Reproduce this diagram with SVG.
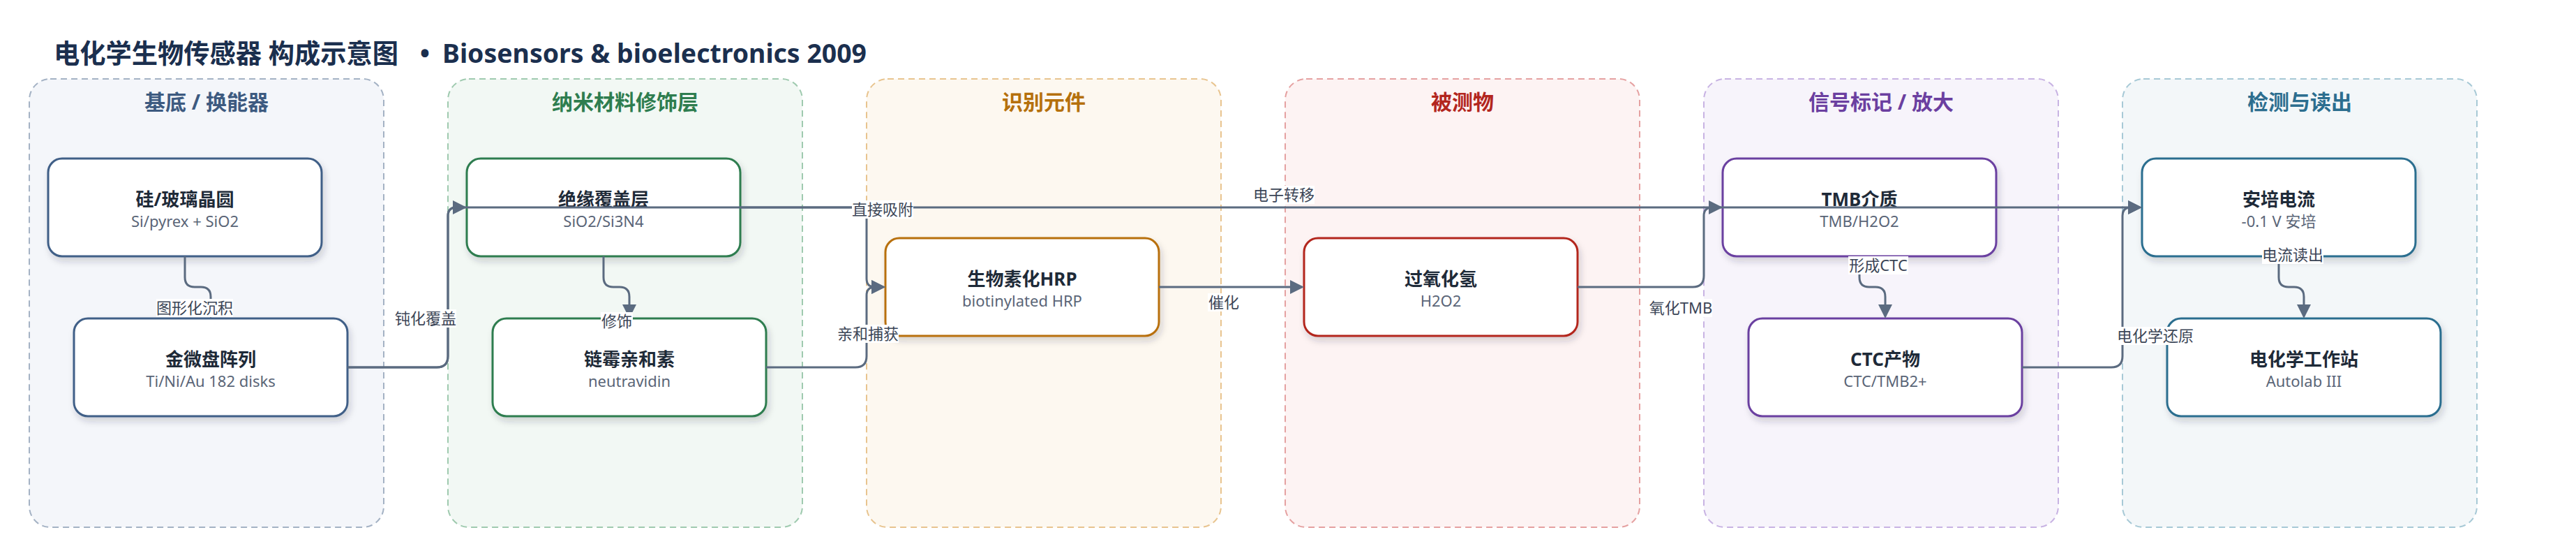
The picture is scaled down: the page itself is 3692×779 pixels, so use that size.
<svg xmlns="http://www.w3.org/2000/svg" width="3692" height="779" viewBox="0 0 3692 779">
<style>
text{font-family:'Noto Sans','Noto Sans CJK SC',sans-serif}
.ttl{font-size:38px;font-weight:700;fill:#1b2f4e}
.ct{font-size:30px;font-weight:700;text-anchor:middle}
.cl{stroke-width:2;stroke-dasharray:9 6}
.nd{fill:#fff;stroke-width:3}
.nt{font-size:26px;font-weight:700;fill:#1e2a38;text-anchor:middle}
.ns{font-size:22px;fill:#5a6577;text-anchor:middle}
.e{fill:none;stroke:#5b6b80;stroke-width:3}
.lb{fill:#fff}
.lt{font-size:22px;fill:#3c4657;text-anchor:middle}
</style>
<defs>
<marker id="ah" markerUnits="userSpaceOnUse" markerWidth="20" markerHeight="20" viewBox="0 0 20 20" refX="17" refY="10" orient="auto"><path d="M0,0 L20,10 L0,20 Z" fill="#5b6b80"/></marker>
<filter id="sh" x="-10%" y="-20%" width="125%" height="150%"><feDropShadow dx="3" dy="6" stdDeviation="5" flood-color="#1e293b" flood-opacity="0.18"/></filter>
</defs>
<rect width="3692" height="779" fill="#fff"/>
<g id="title">
<text class="ttl" x="77" y="90" textLength="494" lengthAdjust="spacingAndGlyphs">电化学生物传感器 构成示意图</text>
<text class="ttl" x="609" y="90" text-anchor="middle">•</text>
<text class="ttl" x="634" y="90" textLength="608" lengthAdjust="spacingAndGlyphs">Biosensors &amp; bioelectronics 2009</text>
</g>

<g id="clusters">
<g id="c1"><rect class="cl" x="42" y="113" width="508" height="642" rx="30" fill="#f4f6fa" stroke="#a4b2c4"/><text class="ct" x="296" y="157" fill="#3d5a80">基底 / 换能器</text></g>
<g id="c2"><rect class="cl" x="642" y="113" width="508" height="642" rx="30" fill="#f2f8f4" stroke="#9fcaaf"/><text class="ct" x="896" y="157" fill="#2e7d4f">纳米材料修饰层</text></g>
<g id="c3"><rect class="cl" x="1242" y="113" width="508" height="642" rx="30" fill="#fdf8f0" stroke="#e8c48f"/><text class="ct" x="1496" y="157" fill="#b5700c">识别元件</text></g>
<g id="c4"><rect class="cl" x="1842" y="113" width="508" height="642" rx="30" fill="#fdf3f3" stroke="#e5a1a1"/><text class="ct" x="2096" y="157" fill="#b3261e">被测物</text></g>
<g id="c5"><rect class="cl" x="2442" y="113" width="508" height="642" rx="30" fill="#f7f4fb" stroke="#c8b3e3"/><text class="ct" x="2696" y="157" fill="#6b3fa0">信号标记 / 放大</text></g>
<g id="c6"><rect class="cl" x="3042" y="113" width="508" height="642" rx="30" fill="#f3f7f9" stroke="#a7c9d6"/><text class="ct" x="3296" y="157" fill="#2c6e8f">检测与读出</text></g>
</g>

<g id="nodes">
<g id="wafer"><rect class="nd" filter="url(#sh)" x="69" y="227" width="392" height="140" rx="20" stroke="#3f5f87"/><text class="nt" x="265" y="295">硅/玻璃晶圆</text><text class="ns" x="265" y="325">Si/pyrex + SiO2</text></g>
<g id="gold"><rect class="nd" filter="url(#sh)" x="106" y="456" width="392" height="140" rx="20" stroke="#3f5f87"/><text class="nt" x="302" y="524">金微盘阵列</text><text class="ns" x="302" y="554">Ti/Ni/Au 182 disks</text></g>
<g id="insul"><rect class="nd" filter="url(#sh)" x="669" y="227" width="392" height="140" rx="20" stroke="#2e7d4f"/><text class="nt" x="865" y="295">绝缘覆盖层</text><text class="ns" x="865" y="325">SiO2/Si3N4</text></g>
<g id="neutra"><rect class="nd" filter="url(#sh)" x="706" y="456" width="392" height="140" rx="20" stroke="#2e7d4f"/><text class="nt" x="902" y="524">链霉亲和素</text><text class="ns" x="902" y="554">neutravidin</text></g>
<g id="hrp"><rect class="nd" filter="url(#sh)" x="1269" y="341" width="392" height="140" rx="20" stroke="#b8700c"/><text class="nt" x="1465" y="409">生物素化HRP</text><text class="ns" x="1465" y="439">biotinylated HRP</text></g>
<g id="h2o2"><rect class="nd" filter="url(#sh)" x="1869" y="341" width="392" height="140" rx="20" stroke="#b3261e"/><text class="nt" x="2065" y="409">过氧化氢</text><text class="ns" x="2065" y="439">H2O2</text></g>
<g id="tmb"><rect class="nd" filter="url(#sh)" x="2469" y="227" width="392" height="140" rx="20" stroke="#6b3fa0"/><text class="nt" x="2665" y="295">TMB介质</text><text class="ns" x="2665" y="325">TMB/H2O2</text></g>
<g id="ctc"><rect class="nd" filter="url(#sh)" x="2506" y="456" width="392" height="140" rx="20" stroke="#6b3fa0"/><text class="nt" x="2702" y="524">CTC产物</text><text class="ns" x="2702" y="554">CTC/TMB2+</text></g>
<g id="amp"><rect class="nd" filter="url(#sh)" x="3070" y="227" width="392" height="140" rx="20" stroke="#2c6e8f"/><text class="nt" x="3266" y="295">安培电流</text><text class="ns" x="3266" y="325">-0.1 V 安培</text></g>
<g id="station"><rect class="nd" filter="url(#sh)" x="3106" y="456" width="392" height="140" rx="20" stroke="#2c6e8f"/><text class="nt" x="3302" y="524">电化学工作站</text><text class="ns" x="3302" y="554">Autolab III</text></g>
</g>

<g id="connectors">
<path class="e" marker-end="url(#ah)" d="M265,367 V397 Q265,411 279,411 H288 Q302,411 302,425 V453"/>
<path class="e" marker-end="url(#ah)" d="M498,526 H626 Q642,526 642,510 V309 Q642,297 654,297 H666"/>
<path class="e" marker-end="url(#ah)" d="M498,526 H626 Q642,526 642,510 V309 Q642,297 654,297 H3067"/>
<path class="e" marker-end="url(#ah)" d="M865,367 V397 Q865,411 879,411 H888 Q902,411 902,425 V453"/>
<path class="e" marker-end="url(#ah)" d="M1061,297 H1226 Q1242,297 1242,313 V399 Q1242,411 1254,411 H1266"/>
<path class="e" marker-end="url(#ah)" d="M1098,526 H1226 Q1242,526 1242,510 V423 Q1242,411 1254,411 H1266"/>
<path class="e" marker-end="url(#ah)" d="M1661,411 H1866"/>
<path class="e" marker-end="url(#ah)" d="M2261,411 H2426 Q2442,411 2442,395 V309 Q2442,297 2454,297 H2466"/>
<path class="e" marker-end="url(#ah)" d="M2665,367 V397 Q2665,411 2679,411 H2688 Q2702,411 2702,425 V453"/>
<path class="e" marker-end="url(#ah)" d="M2898,526 H3026 Q3042,526 3042,510 V309 Q3042,297 3054,297 H3067"/>
<path class="e" marker-end="url(#ah)" d="M3266,367 V397 Q3266,411 3280,411 H3288 Q3302,411 3302,425 V453"/>
</g>

<g id="labels">
<rect class="lb" x="224" y="428" width="110" height="26"/><text class="lt" x="279" y="449">图形化沉积</text>
<rect class="lb" x="566" y="443" width="88" height="26"/><text class="lt" x="610" y="464">钝化覆盖</text>
<rect class="lb" x="861" y="447" width="46" height="26"/><text class="lt" x="884" y="468">修饰</text>
<rect class="lb" x="1221" y="287" width="88" height="26"/><text class="lt" x="1265" y="308">直接吸附</text>
<rect class="lb" x="1200" y="465" width="88" height="26"/><text class="lt" x="1244" y="486">亲和捕获</text>
<rect class="lb" x="1731" y="420" width="46" height="26"/><text class="lt" x="1754" y="441">催化</text>
<rect class="lb" x="1796" y="266" width="88" height="26"/><text class="lt" x="1840" y="287">电子转移</text>
<rect class="lb" x="2364" y="428" width="90" height="26"/><text class="lt" x="2409" y="449">氧化TMB</text>
<rect class="lb" x="2649" y="367" width="86" height="26"/><text class="lt" x="2692" y="388">形成CTC</text>
<rect class="lb" x="3034" y="468" width="110" height="26"/><text class="lt" x="3089" y="489">电化学还原</text>
<rect class="lb" x="3242" y="352" width="88" height="26"/><text class="lt" x="3286" y="373">电流读出</text>
</g>
</svg>
